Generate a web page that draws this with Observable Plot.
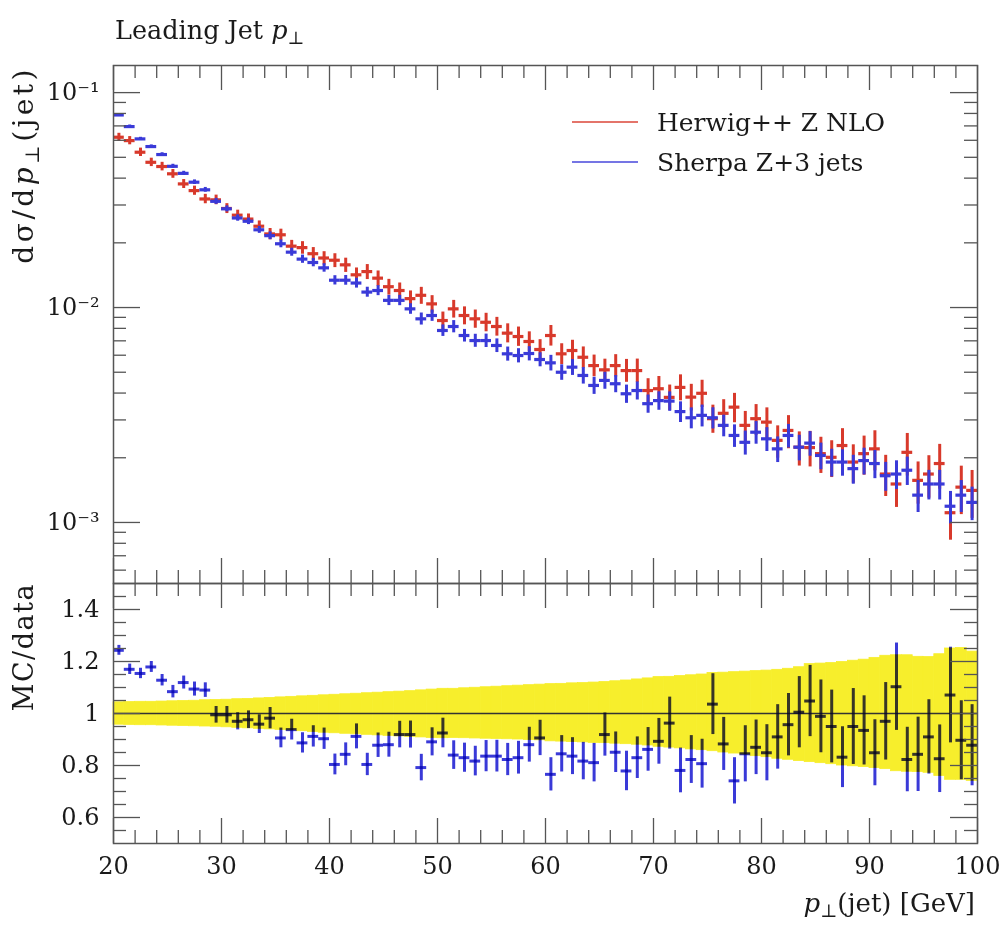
<!DOCTYPE html>
<html><head><meta charset="utf-8">
<script src="https://cdn.jsdelivr.net/npm/d3@7"></script>
<script src="https://cdn.jsdelivr.net/npm/@observablehq/plot@0.6"></script>
<style>
body{margin:0;background:#fff;}
#wrap{position:relative;width:1001px;height:941px;overflow:hidden;font-family:"DejaVu Serif",serif;color:#1a1a1a;background:#fff;}
.abs{position:absolute;white-space:nowrap;line-height:1;}
.sub{font-size:70%;position:relative;top:0.3em;}
.rot{transform-origin:0 0;transform:rotate(-90deg);text-align:right;}
svg.plotsvg{position:absolute;left:0;}
</style></head><body><div id="wrap"></div>
<script>
// ---------- data ----------
const binLo = [20,21,22,23,24,25,26,27,28,29,30,31,32,33,34,35,36,37,38,39,
  40,41,42,43,44,45,46,47,48,49,50,51,52,53,54,55,56,57,58,59,
  60,61,62,63,64,65,66,67,68,69,70,71,72,73,74,75,76,77,78,79,
  80,81,82,83,84,85,86,87,88,89,90,91,92,93,94,95,96,97,98,99];
const herwig = [0.0620,0.0598,0.0528,0.0474,0.0453,0.0419,0.0376,0.0350,0.0320,0.0317,
  0.0289,0.0269,0.0258,0.0239,0.0220,0.0218,0.0193,0.0190,0.0178,0.0170,
  0.0166,0.0158,0.0142,0.0147,0.0137,0.0125,0.0120,0.0110,0.0114,0.0104,
  0.00870,0.00986,0.00918,0.00886,0.00854,0.00816,0.00760,0.00733,0.00695,0.00638,
  0.00741,0.00609,0.00631,0.00587,0.00537,0.00513,0.00537,0.00509,0.00509,0.00411,
  0.00419,0.00382,0.00425,0.00383,0.00399,0.00304,0.00322,0.00344,0.00283,0.00304,
  0.00293,0.00241,0.00268,0.00224,0.00223,0.00209,0.00201,0.00228,0.00191,0.00209,
  0.00220,0.00168,0.00151,0.00212,0.00157,0.00168,0.00188,0.00111,0.00146,0.00141];
const sherpa = [0.0787,0.0695,0.0609,0.0561,0.0515,0.0454,0.0421,0.0383,0.0353,0.0312,
  0.0288,0.0261,0.0252,0.0230,0.0216,0.0198,0.0181,0.0168,0.0162,0.0153,
  0.0134,0.0134,0.0130,0.0118,0.0120,0.0108,0.0108,0.00986,0.00886,0.00918,
  0.00782,0.00816,0.00741,0.00702,0.00702,0.00666,0.00609,0.00598,0.00611,0.00573,
  0.00553,0.00500,0.00528,0.00483,0.00434,0.00458,0.00442,0.00397,0.00411,0.00357,
  0.00369,0.00367,0.00328,0.00307,0.00315,0.00307,0.00283,0.00254,0.00236,0.00263,
  0.00245,0.00220,0.00254,0.00224,0.00234,0.00205,0.00191,0.00191,0.00178,0.00194,
  0.00188,0.00165,0.00168,0.00175,0.00134,0.00151,0.00151,0.00119,0.00134,0.00124];
const ratio = [1.243,1.170,1.154,1.179,1.128,1.084,1.119,1.094,1.090,0.995,
  0.995,0.970,0.976,0.959,0.982,0.906,0.938,0.887,0.912,0.903,
  0.804,0.843,0.912,0.804,0.878,0.880,0.919,0.919,0.792,0.891,
  0.925,0.840,0.830,0.817,0.836,0.836,0.823,0.830,0.880,0.906,
  0.766,0.845,0.836,0.817,0.811,0.919,0.851,0.779,0.830,0.862,
  0.893,0.963,0.781,0.823,0.807,1.036,0.883,0.741,0.845,0.870,
  0.849,0.910,0.957,1.005,1.048,0.989,0.950,0.832,0.950,0.935,
  0.849,0.970,1.103,0.823,0.843,0.910,0.826,1.071,0.897,0.878];
const ratioErr = [0.019,0.020,0.020,0.021,0.022,0.024,0.025,0.027,0.028,0.032,
  0.032,0.033,0.034,0.036,0.041,0.038,0.040,0.039,0.041,0.041,
  0.040,0.044,0.048,0.043,0.047,0.048,0.051,0.052,0.051,0.054,
  0.057,0.055,0.056,0.057,0.060,0.061,0.062,0.063,0.067,0.068,
  0.064,0.070,0.071,0.072,0.074,0.083,0.078,0.076,0.080,0.084,
  0.088,0.100,0.086,0.092,0.094,0.117,0.102,0.089,0.108,0.105,
  0.108,0.124,0.120,0.137,0.137,0.140,0.140,0.117,0.146,0.133,
  0.127,0.149,0.168,0.124,0.143,0.143,0.130,0.184,0.152,0.156];
const bandHi = [1.043,1.044,1.045,1.045,1.046,1.047,1.048,1.049,1.051,1.052,
  1.053,1.055,1.056,1.058,1.060,1.062,1.064,1.066,1.068,1.070,
  1.072,1.074,1.076,1.078,1.080,1.082,1.084,1.086,1.089,1.092,
  1.095,1.095,1.097,1.099,1.101,1.103,1.105,1.107,1.109,1.111,
  1.113,1.114,1.116,1.117,1.119,1.121,1.124,1.127,1.131,1.135,
  1.140,1.141,1.144,1.147,1.150,1.156,1.157,1.159,1.161,1.163,
  1.165,1.168,1.172,1.178,1.190,1.192,1.194,1.198,1.203,1.207,
  1.214,1.222,1.224,1.224,1.218,1.217,1.228,1.250,1.252,1.238];
const bandLo = [0.957,0.956,0.955,0.955,0.954,0.953,0.952,0.951,0.950,0.949,
  0.947,0.945,0.943,0.941,0.939,0.937,0.935,0.932,0.929,0.926,
  0.924,0.922,0.920,0.918,0.916,0.914,0.912,0.910,0.908,0.906,
  0.905,0.906,0.905,0.904,0.903,0.902,0.901,0.900,0.898,0.897,
  0.893,0.892,0.890,0.889,0.887,0.886,0.884,0.882,0.880,0.877,
  0.872,0.869,0.866,0.862,0.859,0.855,0.850,0.846,0.842,0.836,
  0.832,0.826,0.822,0.817,0.813,0.809,0.805,0.800,0.797,0.794,
  0.790,0.786,0.778,0.776,0.775,0.772,0.760,0.745,0.745,0.741];
const seriesNames = ["Herwig++ Z NLO", "Sherpa Z+3 jets"];
const xMajor = [20,30,40,50,60,70,80,90,100];
const xMinor = [22,24,26,28,32,34,36,38,42,44,46,48,52,54,56,58,62,64,66,68,72,74,76,78,82,84,86,88,92,94,96,98];
const yTopMajor = [0.1,0.01,0.001];
const yTopMinor = [0.09,0.08,0.07,0.06,0.05,0.04,0.03,0.02,0.009,0.008,0.007,0.006,0.005,0.004,0.003,0.002,0.0009,0.0008,0.0007,0.0006];
const yRatioMajor = [0.6,0.8,1,1.2,1.4];
const yRatioMinor = [0.55,0.65,0.7,0.75,0.85,0.9,0.95,1.05,1.1,1.15,1.25,1.3,1.35,1.45];

// ---------- styles ----------
const RED = "#d8392b", BLUE = "#3a3ad8", YELLOW = "#f7ee2c", TICK = "#555", FONT = "DejaVu Serif";
const W = 1001, ML = 113, MR = 24, FW = W - ML - MR;
const rows = binLo.map((lo, i) => ({
  lo, hi: lo + 1, mid: lo + 0.5,
  red: herwig[i], blue: sherpa[i], ratio: ratio[i], rErr: ratioErr[i],
  bHi: bandHi[i], bLo: bandLo[i]
}));
const sup = {1: "¹", 2: "²", 3: "³"};
const fmtPow = d => "10⁻" + sup[Math.round(-Math.log10(d))];

function xTicks(values, len, side, fh) {
  return Plot.tickX(values, {x: d => d, stroke: TICK, strokeWidth: 1.3,
    insetTop: side === "bottom" ? fh - len : 0, insetBottom: side === "top" ? fh - len : 0});
}
function yTicks(values, len, side) {
  return Plot.tickY(values, {y: d => d, stroke: TICK, strokeWidth: 1.3,
    insetRight: side === "left" ? FW - len : 0, insetLeft: side === "right" ? FW - len : 0});
}
const style = {background: "transparent", overflow: "visible", fontFamily: FONT, fontSize: "24px", color: "#1a1a1a"};

// ---------- top panel ----------
const FH1 = 518;
const topPlot = Plot.plot({
  width: W, height: 593, marginTop: 65, marginBottom: 10, marginLeft: ML, marginRight: MR,
  style,
  x: {domain: [20, 100], axis: null},
  y: {type: "log", domain: [5.2e-4, 0.1337]},
  marks: [
    Plot.axisY(yTopMajor, {tickSize: 0, tickPadding: 14, tickFormat: fmtPow, label: null, fontSize: 24}),
    // Herwig
    Plot.ruleX(rows, {x: "mid", y1: d => d.red * d.bLo, y2: d => d.red * d.bHi, stroke: RED, strokeWidth: 3}),
    Plot.ruleY(rows, {y: "red", x1: "lo", x2: "hi", stroke: RED, strokeWidth: 3.2}),
    // Sherpa
    Plot.ruleX(rows, {x: "mid", y1: d => d.blue * (1 - d.rErr / d.ratio), y2: d => d.blue * (1 + d.rErr / d.ratio), stroke: BLUE, strokeWidth: 3}),
    Plot.ruleY(rows, {y: "blue", x1: "lo", x2: "hi", stroke: BLUE, strokeWidth: 3.2}),
    xTicks(xMajor, 25, "top", FH1), xTicks(xMinor, 13, "top", FH1),
    xTicks(xMajor, 25, "bottom", FH1), xTicks(xMinor, 13, "bottom", FH1),
    yTicks(yTopMajor, 27, "left"), yTicks(yTopMinor, 13, "left"),
    yTicks(yTopMajor, 27, "right"), yTicks(yTopMinor, 13, "right"),
    Plot.frame({stroke: TICK, strokeWidth: 1.5})
  ]
});

// ---------- ratio panel ----------
const FH2 = 260;
const botPlot = Plot.plot({
  width: W, height: 368, marginTop: 10, marginBottom: 98, marginLeft: ML, marginRight: MR,
  style,
  x: {domain: [20, 100]},
  y: {domain: [0.5, 1.5]},
  marks: [
    Plot.rect(rows, {x1: "lo", x2: "hi", y1: "bLo", y2: "bHi", fill: YELLOW, stroke: YELLOW, strokeWidth: 0.8}),
    Plot.ruleY([1], {stroke: "#333", strokeWidth: 1.3}),
    Plot.ruleX(rows, {x: "mid", y1: d => d.ratio - d.rErr, y2: d => d.ratio + d.rErr, stroke: BLUE, strokeWidth: 3, mixBlendMode: "multiply"}),
    Plot.ruleY(rows, {y: "ratio", x1: "lo", x2: "hi", stroke: BLUE, strokeWidth: 3, mixBlendMode: "multiply"}),
    xTicks(xMajor, 25, "top", FH2), xTicks(xMinor, 13, "top", FH2),
    xTicks(xMajor, 25, "bottom", FH2), xTicks(xMinor, 13, "bottom", FH2),
    yTicks(yRatioMajor, 27, "left"), yTicks(yRatioMinor, 13, "left"),
    yTicks(yRatioMajor, 27, "right"), yTicks(yRatioMinor, 13, "right"),
    Plot.axisX(xMajor, {tickSize: 0, tickPadding: 13, label: null, fontSize: 24}),
    Plot.axisY(yRatioMajor, {tickSize: 0, tickPadding: 14, label: null, fontSize: 24,
      tickFormat: d => d === 1 ? "1" : d.toFixed(1)}),
    Plot.frame({stroke: TICK, strokeWidth: 1.5})
  ]
});

const wrap = document.getElementById("wrap");
topPlot.classList.add("plotsvg"); topPlot.style.top = "0px";
botPlot.classList.add("plotsvg"); botPlot.style.top = "573px";
wrap.appendChild(topPlot);
wrap.appendChild(botPlot);

// ---------- text & legend ----------
function addDiv(html, css) {
  const d = document.createElement("div");
  d.className = "abs";
  d.innerHTML = html;
  Object.assign(d.style, css);
  wrap.appendChild(d);
  return d;
}
addDiv('Leading Jet <i>p</i><span class="sub">⊥</span>', {left: "115px", top: "18px", fontSize: "25.5px"});
addDiv('<i>p</i><span class="sub">⊥</span>(jet) [GeV]', {right: "26px", top: "890px", fontSize: "26px"});
// rotated y labels (end aligned with the panel tops)
const rotW = 320;
addDiv('dσ/d<i>p</i><span class="sub">⊥</span>(jet)', {left: (34 - 0.846 * 28) + "px", top: (66 + rotW) + "px", width: rotW + "px", fontSize: "28px", letterSpacing: "3.5px"}).classList.add("rot");
addDiv('MC/data', {left: (33 - 0.846 * 27) + "px", top: (583 + rotW) + "px", width: rotW + "px", fontSize: "27px", letterSpacing: "1.5px"}).classList.add("rot");
// legend
const legendColors = [RED, BLUE];
seriesNames.forEach((name, i) => {
  const cy = 122 + i * 40;
  addDiv("", {left: "572px", top: (cy - 1.25) + "px", width: "66px", height: "2.5px", background: legendColors[i], opacity: "0.7"});
  addDiv(name, {left: "657px", top: (cy + 9 - 0.846 * 25) + "px", fontSize: "25px"});
});
</script></body></html>
